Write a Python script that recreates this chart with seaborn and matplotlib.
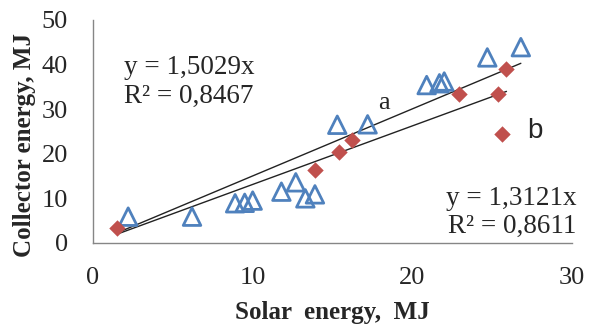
import numpy as np
import pandas as pd
import matplotlib
matplotlib.use("Agg")
import matplotlib.pyplot as plt
import seaborn as sns

# Series a (open triangles)
solar_a = [2.2, 6.2, 8.9, 9.5, 10.0, 11.8, 12.7, 13.3, 13.9, 15.3, 17.2, 20.9, 21.7, 22.0, 24.7, 26.8]
coll_a = [5.9, 5.9, 8.9, 9.0, 9.5, 11.5, 13.6, 10.0, 10.9, 26.5, 26.6, 35.4, 35.8, 36.2, 41.6, 43.9]

# Series b (filled diamonds)
solar_b = [1.5, 13.9, 15.4, 16.2, 22.9, 25.4, 25.9, 25.6]
coll_b = [3.4, 16.4, 20.4, 23.0, 33.4, 33.5, 38.9, 24.4]

# trendline slopes (through origin) as shown on the chart
slope_a = 1.5029
slope_b = 1.3121
r2_a = 0.8467
r2_b = 0.8611

sns.set_style("white")
plt.rcParams["font.family"] = ["Liberation Serif", "DejaVu Serif"]

fig = plt.figure(figsize=(5.89, 3.27), dpi=100)
ax = fig.add_axes([0.158, 0.257, 0.813, 0.682])

blue = "#4F81BD"
red = "#C0504D"

df_a = pd.DataFrame({"x": solar_a, "y": coll_a})
df_b = pd.DataFrame({"x": solar_b, "y": coll_b})

# trendlines over the data range
x_start = min(min(solar_a), min(solar_b))
tr_a = pd.DataFrame({"x": [x_start, max(solar_a)]})
tr_a["y"] = slope_a * tr_a["x"]
tr_b = pd.DataFrame({"x": [x_start, max(solar_b)]})
tr_b["y"] = slope_b * tr_b["x"]
sns.lineplot(data=tr_a, x="x", y="y", ax=ax, color="#222222", lw=1.0, zorder=2)
sns.lineplot(data=tr_b, x="x", y="y", ax=ax, color="#222222", lw=1.0, zorder=2)

sns.scatterplot(data=df_a, x="x", y="y", ax=ax, marker="^", s=160,
                facecolor="none", edgecolor=blue, linewidth=2.0, zorder=3)
sns.scatterplot(data=df_b, x="x", y="y", ax=ax, marker="D", s=70,
                color=red, edgecolor=red, linewidth=0, zorder=3)

ax.set_xlim(0, 30)
ax.set_ylim(0, 50)
ax.set_xticks([0, 10, 20, 30])
ax.set_yticks([0, 10, 20, 30, 40, 50])

for side in ["top", "right"]:
    ax.spines[side].set_visible(False)
for side in ["left", "bottom"]:
    ax.spines[side].set_color("#868686")
    ax.spines[side].set_linewidth(1.0)
ax.tick_params(axis="both", direction="out", length=5, width=1.0,
               color="#868686", labelsize=19)
ax.tick_params(axis="x", pad=12)
ax.tick_params(axis="y", pad=13)

ax.set_xlabel("Solar  energy,  MJ", fontsize=18, fontweight="bold")
ax.set_ylabel("Collector energy, MJ", fontsize=18, fontweight="bold")
ax.xaxis.set_label_coords(0.5, -0.26)
ax.yaxis.set_label_coords(-0.12, 0.44)

ax.text(0.065, 0.72, f"y = {str(slope_a).replace('.', ',')}x\nR² = {str(r2_a).replace('.', ',')}",
        transform=ax.transAxes, fontsize=19.5, ha="left", va="center", linespacing=1.2)
ax.text(1.01, 0.137, f"y = {str(slope_b).replace('.', ',')}x\nR² = {str(r2_b).replace('.', ',')}",
        transform=ax.transAxes, fontsize=19.5, ha="right", va="center", linespacing=1.2)

ax.text(18.2, 31.4, "a", fontsize=19, ha="center", va="center")
ax.text(27.7, 25.2, "b", fontsize=20, ha="center", va="center",
        family=["Liberation Sans", "DejaVu Sans"])

fig.savefig("out.png", dpi=100)
